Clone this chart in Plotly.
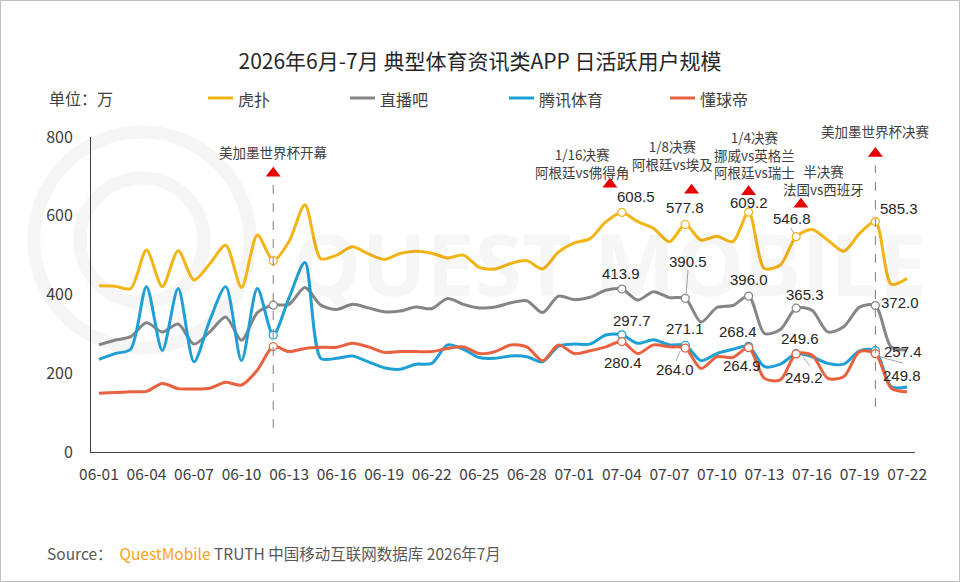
import plotly.graph_objects as go

# 日期（06-01 至 07-22）
dates = ["06-%02d" % d for d in range(1, 31)] + ["07-%02d" % d for d in range(1, 23)]

# 日活跃用户（万）
hupu = [422, 421, 415, 513, 420, 511, 437, 478, 525, 418, 551, 486, 535, 628, 491, 500,
        521, 503, 489, 504, 510, 505, 493, 500, 469, 465, 479, 486, 465, 508, 531, 542,
        585, 608.5, 585, 568, 534, 577.8, 538, 548, 534, 609.2, 466, 475, 546.8, 565,
        538, 510, 555, 585.3, 426, 441]
zhibo8 = [272, 284, 293, 328, 305, 325, 274, 305, 343, 284, 354, 373, 375, 418, 373, 362,
          375, 366, 356, 358, 368, 364, 390, 375, 366, 368, 379, 384, 354, 396, 387, 393,
          411, 413.9, 386, 407, 392, 390.5, 330, 367, 372, 396.0, 301, 311, 365.3, 360,
          305, 318, 368, 372.0, 267, 259]
tencent = [235, 250, 261, 420, 258, 415, 229, 335, 420, 232, 415, 297, 392, 481, 238, 238,
           244, 229, 214, 210, 223, 225, 272, 261, 240, 238, 244, 242, 229, 269, 274, 274,
           297, 297.7, 276, 285, 272, 271.1, 232, 250, 261, 268.4, 217, 223, 249.6, 242,
           225, 223, 257, 257.4, 166, 165]
dongqiudi = [149, 151, 153, 154, 174, 161, 160, 162, 177, 170, 208, 268, 255, 263, 266, 266,
             276, 267, 253, 255, 255, 255, 263, 267, 250, 255, 272, 267, 232, 272, 250, 257,
             267, 280.4, 250, 272, 267, 264.0, 212, 242, 240, 264.9, 187, 183, 249.2, 246,
             187, 191, 255, 249.8, 162, 153]

names = ["虎扑", "直播吧", "腾讯体育", "懂球帝"]
series = [hupu, zhibo8, tencent, dongqiudi]
colors = ["#F4B414", "#858585", "#1EA0D5", "#E8623F"]

mark_days = [11, 33, 37, 41, 44, 49]
label_days = [33, 37, 41, 44, 49]
# 数值标签偏移（像素）
label_shift = [
    [(14, -16), (0, -17), (0, -10), (-4, -18), (24, -13)],
    [(-1, -16), (3, -37), (0, -17), (9, -14), (25, -3)],
    [(10, -14), (0, -17), (-11, -15), (4, -15), (28, 1)],
    [(1, 21), (-10, 21), (-7, 18), (8, 24), (27, 22)],
]

events = ["美加墨世界杯开幕", "1/16决赛<br>阿根廷vs佛得角", "1/8决赛<br>阿根廷vs埃及",
          "1/4决赛<br>挪威vs英格兰<br>阿根廷vs瑞士", "半决赛<br>法国vs西班牙", "美加墨世界杯决赛"]
event_x = [11, 30.5, 36.2, 41.4, 45.75, 49]
event_py = [152, 163, 155, 154, 180, 131]   # 文字中心（像素）
tri_x = [11, 32.25, 37.4, 41, 44.3, 49]
tri_y = [708, 680, 665, 661, 629, 758]

L, T, R, B = 91, 137, 45, 130
W, H = 960 - L - R, 582 - T - B


def px(x):
    return (x - L) / W


def py(y):
    return (582 - B - y) / H


cn = "Microsoft YaHei, Noto Sans CJK SC, sans-serif"
num = "Arial, Liberation Sans, sans-serif"

fig = go.Figure()
x = list(range(len(dates)))
for name, ys, c in zip(names, series, colors):
    fig.add_trace(go.Scatter(x=x, y=ys, name=name, mode="lines",
                             line=dict(color=c, width=3, shape="spline", smoothing=0.8),
                             showlegend=False))
for name, ys, c in zip(names, series, colors):
    fig.add_trace(go.Scatter(x=mark_days, y=[ys[d] for d in mark_days], mode="markers",
                             marker=dict(color="white", size=8, line=dict(color=c, width=1.2)),
                             showlegend=False, hoverinfo="skip"))

fig.add_trace(go.Scatter(x=tri_x, y=tri_y, mode="markers", cliponaxis=False,
                         marker=dict(symbol="triangle-up", color="#E60000", size=13),
                         showlegend=False, hoverinfo="skip"))

# 虚线
fig.add_shape(type="line", x0=11, x1=11, y0=61, y1=678,
              line=dict(color="#7F7F7F", width=1, dash="dash"))
fig.add_shape(type="line", x0=49, x1=49, y0=114, y1=728,
              line=dict(color="#7F7F7F", width=1, dash="dash"))

# 数值标签
for ys, shifts in zip(series, label_shift):
    for d, (dx, dy) in zip(label_days, shifts):
        fig.add_annotation(x=d, y=ys[d], text="%.1f" % ys[d], showarrow=False,
                           xshift=dx, yshift=-dy, font=dict(family=num, size=15, color="#262626"))

# 引线
for x0, y0, x1, y1 in [(686, 296, 688, 270), (680, 351, 676, 361), (880, 357, 903, 363),
                       (803, 357, 810, 366), (794, 234, 791, 228)]:
    fig.add_shape(type="line", xref="paper", yref="paper", x0=px(x0), y0=py(y0),
                  x1=px(x1), y1=py(y1), line=dict(color="#A6A6A6", width=1))

# 事件说明
for t, ex, ey in zip(events, event_x, event_py):
    fig.add_annotation(x=ex, y=py(ey), yref="paper", yanchor="middle", text=t, showarrow=False,
                       font=dict(family=cn, size=13.5, color="#404040"))

# 图例
legend_x = [208, 350, 509, 670]
for name, c, lx in zip(names, colors, legend_x):
    fig.add_shape(type="line", xref="paper", yref="paper", x0=px(lx), x1=px(lx + 25),
                  y0=py(98), y1=py(98), line=dict(color=c, width=3))
    fig.add_annotation(xref="paper", yref="paper", x=px(lx + 28), y=py(99), text=name,
                       xanchor="left", yanchor="middle", showarrow=False,
                       font=dict(family=cn, size=16, color="#404040"))
fig.add_annotation(xref="paper", yref="paper", x=px(47), y=py(98), text="单位：万",
                   xanchor="left", yanchor="middle", showarrow=False,
                   font=dict(family=cn, size=16, color="#404040"))

# 来源
fig.add_annotation(xref="paper", yref="paper", x=px(45), y=py(553), xanchor="left",
                   yanchor="middle", showarrow=False,
                   font=dict(family=cn, size=15.5, color="#595959"),
                   text="Source：  <span style='color:#F5A21B'>QuestMobile</span> TRUTH 中国移动互联网数据库 2026年7月")

# 水印
fig.add_annotation(xref="paper", yref="paper", x=px(610), y=py(262), yanchor="middle",
                   text="<b>QUEST MOBILE</b>", showarrow=False,
                   font=dict(family="Open Sans, sans-serif", size=86, color="rgba(0,0,0,0.035)"))
for r in [62, 108]:
    fig.add_shape(type="circle", xref="paper", yref="paper", layer="below",
                  x0=px(142 - r), x1=px(142 + r), y0=py(240 + r), y1=py(240 - r),
                  line=dict(color="#F5F5F5", width=13))

# 边框
fig.add_shape(type="rect", xref="paper", yref="paper", x0=px(0.5), x1=px(959.5),
              y0=py(581.5), y1=py(0.5), line=dict(color="#BFBFBF", width=1))

fig.update_layout(
    width=960, height=582, margin=dict(l=L, r=R, t=T, b=B),
    paper_bgcolor="white", plot_bgcolor="white",
    title=dict(text="2026年6月-7月 典型体育资讯类APP 日活跃用户规模", x=0.5, xref="container",
               xanchor="center", y=1 - 62 / 582, yanchor="middle",
               font=dict(family=cn, size=21, color="#262626")),
    xaxis=dict(range=[-0.5, 51.5], tickvals=x[::3], ticktext=dates[::3], showgrid=False,
               zeroline=False, showline=True, linecolor="#404040", linewidth=1,
               ticks="", ticklabelstandoff=8, tickfont=dict(family=cn, size=15.5, color="#404040")),
    yaxis=dict(range=[0, 800], dtick=200, showgrid=False, zeroline=False, showline=True,
               linecolor="#404040", linewidth=1, ticks="", ticklabelstandoff=14,
               tickfont=dict(family=cn, size=16, color="#404040")),
)

fig.write_html("out.html", config={"displayModeBar": False},
               post_script="document.body.style.margin='0';")
